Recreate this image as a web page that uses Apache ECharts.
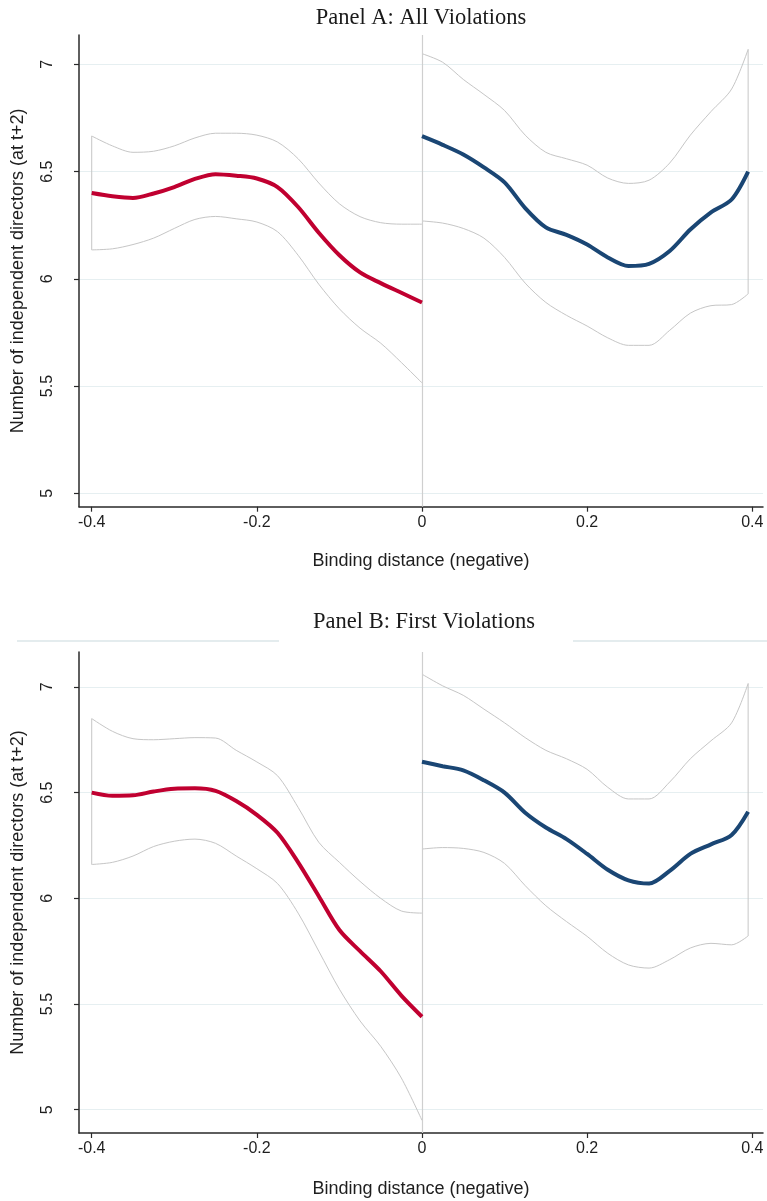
<!DOCTYPE html>
<html><head><meta charset="utf-8">
<script src="https://cdn.jsdelivr.net/npm/echarts@6/dist/echarts.min.js"></script>
<style>html,body{margin:0;padding:0;background:#fff}#c{width:767px;height:1201px}</style>
</head><body><div id="c"></div>
<script>
// ---- data ----
const xLeft  = [-0.4,-0.375,-0.35,-0.325,-0.3,-0.275,-0.25,-0.225,-0.2,-0.175,-0.15,-0.125,-0.1,-0.075,-0.05,-0.025,0];
const xRight = [0,0.025,0.05,0.075,0.1,0.125,0.15,0.175,0.2,0.225,0.25,0.275,0.3,0.325,0.35,0.375,0.395];

// Panel A: All Violations
const fitA_left  = [6.40,6.385,6.377,6.398,6.428,6.466,6.488,6.481,6.468,6.428,6.335,6.215,6.11,6.03,5.98,5.935,5.89];
const upA_left   = [6.666,6.62,6.59,6.595,6.62,6.657,6.679,6.679,6.67,6.638,6.56,6.447,6.35,6.29,6.262,6.255,6.255];
const loA_left   = [6.135,6.14,6.16,6.19,6.235,6.277,6.291,6.28,6.265,6.22,6.11,5.975,5.86,5.77,5.70,5.61,5.515];
const fitA_right = [6.665,6.625,6.58,6.52,6.45,6.33,6.24,6.205,6.16,6.10,6.06,6.07,6.13,6.23,6.31,6.37,6.50];
const upA_right  = [7.05,7.01,6.93,6.86,6.785,6.67,6.59,6.56,6.53,6.47,6.445,6.46,6.54,6.67,6.78,6.885,7.07];
const loA_right  = [6.27,6.26,6.235,6.19,6.10,5.98,5.89,5.83,5.78,5.725,5.69,5.69,5.76,5.84,5.875,5.88,5.93];

// Panel B: First Violations
const fitB_left  = [6.50,6.485,6.487,6.505,6.518,6.52,6.508,6.46,6.395,6.31,6.17,6.01,5.85,5.75,5.655,5.54,5.44];
const upB_left   = [6.85,6.79,6.755,6.75,6.755,6.76,6.758,6.70,6.645,6.58,6.43,6.265,6.17,6.08,6.00,5.94,5.93];
const loB_left   = [6.16,6.17,6.20,6.245,6.27,6.28,6.26,6.20,6.14,6.07,5.93,5.75,5.57,5.42,5.30,5.15,4.95];
const fitB_right = [6.646,6.625,6.605,6.558,6.50,6.405,6.335,6.28,6.21,6.135,6.085,6.07,6.13,6.21,6.255,6.30,6.41];
const upB_right  = [7.06,7.005,6.96,6.895,6.83,6.76,6.70,6.66,6.61,6.525,6.47,6.47,6.55,6.66,6.745,6.83,7.016];
const loB_right  = [6.233,6.24,6.236,6.217,6.165,6.06,5.965,5.89,5.82,5.74,5.685,5.67,5.71,5.765,5.787,5.78,5.822];

const yTicks = [5,5.5,6,6.5,7];
const yTickLabels = ['5','5.5','6','6.5','7'];
const xTicks = [-0.4,-0.2,0,0.2,0.4];
const xTickLabels = ['-0.4','-0.2','0','0.2','0.4'];
const titleA = 'Panel A: All Violations';
const titleB = 'Panel B: First Violations';
const yName = 'Number of independent directors (at t+2)';
const xName = 'Binding distance (negative)';

// ---- build ----
const RED = '#c00030', BLUE = '#1a4674', GREY = '#c6c6c6';
const pairs = (xs, ys) => xs.map((x, i) => [x, ys[i]]);
const sans = 'Liberation Sans, Arial, sans-serif';

function panelSeries(idx, fitL, upL, loL, fitR, upR, loR) {
  const ci = (data) => ({type:'line', xAxisIndex:idx, yAxisIndex:idx, data, showSymbol:false, smooth:0.3,
    lineStyle:{color:GREY, width:1}, silent:true, z:2});
  const cap = (data) => ({type:'line', xAxisIndex:idx, yAxisIndex:idx, data, showSymbol:false,
    lineStyle:{color:GREY, width:1}, silent:true, z:2});
  const fit = (data, color) => ({type:'line', xAxisIndex:idx, yAxisIndex:idx, data, showSymbol:false, smooth:0.3,
    lineStyle:{color, width:4}, silent:true, z:5});
  const nR = xRight.length - 1;
  const s = [
    ci(pairs(xLeft, upL)), ci(pairs(xLeft, loL)),
    cap([[xLeft[0], loL[0]], [xLeft[0], upL[0]]]),
    ci(pairs(xRight, upR)), ci(pairs(xRight, loR)),
    cap([[xRight[nR], loR[nR]], [xRight[nR], upR[nR]]]),
    fit(pairs(xLeft, fitL), RED), fit(pairs(xRight, fitR), BLUE)
  ];
  s[0].markLine = {silent:true, symbol:'none', label:{show:false},
    lineStyle:{color:'#cfcfcf', width:1.2, type:'solid'}, data:[{xAxis:0}]};
  return s;
}

function xAx(idx, gap) {
  return {type:'value', gridIndex:idx, min:-0.4154, max:0.413,
    name:xName, nameLocation:'middle', nameGap:gap,
    nameTextStyle:{fontFamily:sans, fontSize:18, color:'#1e1e1e'},
    axisLine:{show:true, onZero:false, lineStyle:{color:'#2a2a2a', width:1.5}},
    axisTick:{show:true, length:5, customValues:xTicks, lineStyle:{color:'#2a2a2a', width:1.2}},
    axisLabel:{customValues:xTicks, margin:8, fontFamily:sans, fontSize:16, color:'#1e1e1e',
      formatter:v => xTickLabels[xTicks.findIndex(t => Math.abs(t - v) < 1e-9)]},
    splitLine:{show:false}};
}
function yAx(idx, min, max) {
  return {type:'value', gridIndex:idx, min, max,
    name:yName, nameLocation:'middle', nameGap:52, nameRotate:90,
    nameTextStyle:{fontFamily:sans, fontSize:18, color:'#1e1e1e'},
    axisLine:{show:true, onZero:false, lineStyle:{color:'#2a2a2a', width:1.5}},
    axisTick:{show:true, length:5, customValues:yTicks, lineStyle:{color:'#2a2a2a', width:1.2}},
    axisLabel:{customValues:yTicks, rotate:90, margin:23, fontFamily:sans, fontSize:16, color:'#1e1e1e',
      formatter:v => yTickLabels[yTicks.findIndex(t => Math.abs(t - v) < 1e-9)]},
    splitLine:{show:true, lineStyle:{color:'#e6eff1', width:1.2}}};
}

const chart = echarts.init(document.getElementById('c'), null, {renderer:'canvas'});
chart.setOption({
  backgroundColor:'#fff',
  animation:false,
  grid:[
    {left:79, top:35, width:684, height:471.7},
    {left:79, top:652, width:684, height:481}
  ],
  xAxis:[xAx(0, 45), xAx(1, 47)],
  yAxis:[yAx(0, 4.9376, 7.137), yAx(1, 4.89, 7.165)],
  graphic:[
    {type:'text', x:421, y:18, style:{text:titleA, font:'22.5px "Liberation Serif", serif', fill:'#1a1a1a', textAlign:'center', textVerticalAlign:'middle'}},
    {type:'line', shape:{x1:17, y1:641, x2:279, y2:641}, style:{stroke:'#e4ecee', lineWidth:2}},
    {type:'line', shape:{x1:573, y1:641, x2:767, y2:641}, style:{stroke:'#e4ecee', lineWidth:2}},
    {type:'text', x:424, y:622, style:{text:titleB, font:'22.5px "Liberation Serif", serif', fill:'#1a1a1a', textAlign:'center', textVerticalAlign:'middle'}}
  ],
  series:[
    ...panelSeries(0, fitA_left, upA_left, loA_left, fitA_right, upA_right, loA_right),
    ...panelSeries(1, fitB_left, upB_left, loB_left, fitB_right, upB_right, loB_right)
  ]
});
</script></body></html>
